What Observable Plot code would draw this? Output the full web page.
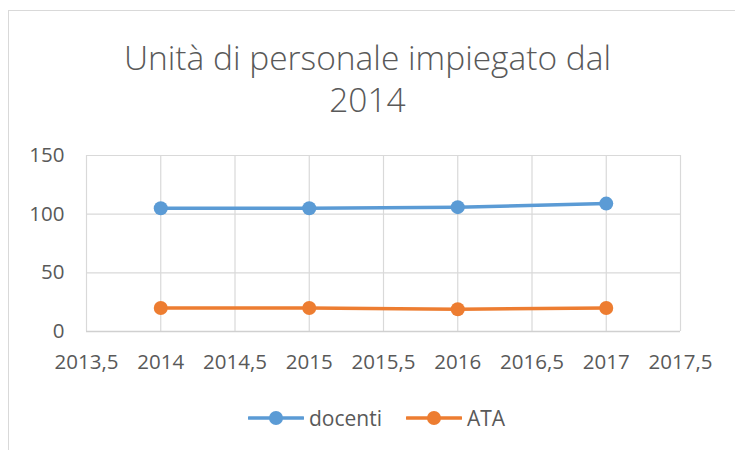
<!DOCTYPE html>
<html><head><meta charset="utf-8">
<script src="https://cdn.jsdelivr.net/npm/d3@7"></script>
<script src="https://cdn.jsdelivr.net/npm/@observablehq/plot@0.6"></script>
<style>
html,body{margin:0;padding:0;width:735px;height:450px;overflow:hidden;background:#fff;font-family:"Open Sans",sans-serif;}
#frame{position:absolute;left:8px;top:10px;width:900px;height:600px;border:1.5px solid #d9d9d9;box-sizing:border-box;}
#title{position:absolute;left:0;top:36px;width:735px;text-align:center;font-size:33.5px;font-weight:300;color:#595959;line-height:42px;}
#chart{position:absolute;left:0;top:130px;}
#legend{position:absolute;left:0;top:404px;width:735px;display:flex;justify-content:center;gap:24px;font-size:21px;color:#595959;padding-left:18px;box-sizing:border-box;}
.li{display:flex;align-items:center;gap:5px;}
</style></head>
<body>
<div id="frame"></div>
<div id="title">Unità di personale impiegato dal<br>2014</div>
<div id="chart"></div>
<div id="legend"></div>
<script>
const years = [2014, 2015, 2016, 2017];
const docenti = [105, 105, 106, 109];
const ata = [20, 20, 19, 20];
const seriesNames = ["docenti", "ATA"];
const seriesColors = ["#5b9bd5", "#ed7d31"];
const xTicks = [2013.5, 2014, 2014.5, 2015, 2015.5, 2016, 2016.5, 2017, 2017.5];
const yTicks = [0, 50, 100, 150];

const data = [];
years.forEach((y, i) => {
  data.push({year: y, value: docenti[i], series: seriesNames[0]});
  data.push({year: y, value: ata[i], series: seriesNames[1]});
});
const fmt = d => String(d).replace(".", ",");

const chart = Plot.plot({
  width: 735, height: 250,
  marginLeft: 86, marginRight: 55, marginTop: 25, marginBottom: 49,
  style: {fontFamily: "'Open Sans', sans-serif", fontSize: "20.5px", color: "#595959", background: "transparent"},
  x: {domain: [2013.5, 2017.5], ticks: xTicks, tickFormat: fmt, tickSize: 0, tickPadding: 23, label: null},
  y: {domain: [0, 150], ticks: yTicks, tickSize: 0, tickPadding: 22, label: null},
  color: {domain: seriesNames, range: seriesColors},
  marks: [
    Plot.gridX(xTicks, {stroke: "#d9d9d9", strokeOpacity: 1, strokeWidth: 1.2}),
    Plot.gridY(yTicks, {stroke: "#d9d9d9", strokeOpacity: 1, strokeWidth: 1.2}),
    Plot.ruleY([0], {stroke: "#d0d0d0", strokeWidth: 1.3}),
    Plot.axisX({ticks: xTicks, tickFormat: fmt, tickSize: 0, tickPadding: 23, fill: "#595959"}),
    Plot.axisY({ticks: yTicks, tickSize: 0, tickPadding: 22, fill: "#595959"}),
    Plot.line(data, {x: "year", y: "value", z: "series", stroke: "series", strokeWidth: 3.5, curve: "linear"}),
    Plot.dot(data, {x: "year", y: "value", fill: "series", r: 7, stroke: "none"})
  ]
});
document.getElementById("chart").appendChild(chart);

const legend = document.getElementById("legend");
seriesNames.forEach((n, i) => {
  const c = seriesColors[i];
  const item = document.createElement("div");
  item.className = "li";
  item.innerHTML = `<svg width="56" height="16"><line x1="1" y1="8" x2="55" y2="8" stroke="${c}" stroke-width="3.5" stroke-linecap="round"/><circle cx="28" cy="8" r="7" fill="${c}"/></svg><span>${n}</span>`;
  legend.appendChild(item);
});
</script>
</body></html>
